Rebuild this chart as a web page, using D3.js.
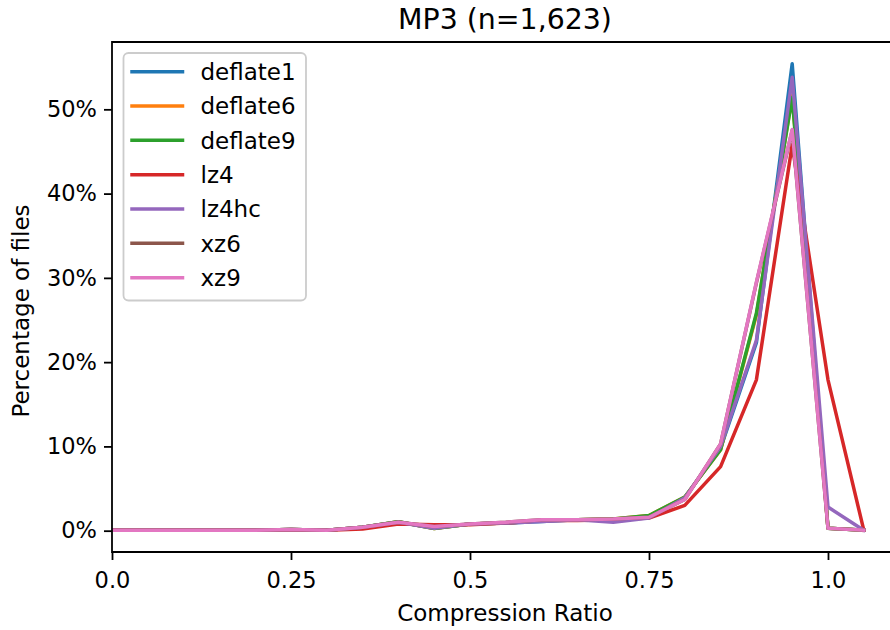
<!DOCTYPE html>
<html>
<head>
<meta charset="utf-8">
<script src="https://cdn.jsdelivr.net/npm/d3@7"></script>
<style>
  html, body { margin: 0; padding: 0; background: #fff; }
  svg { display: block; font-family: "DejaVu Sans", sans-serif; }
</style>
</head>
<body>
<svg id="chart" width="890" height="630"></svg>
<script>
// ---- data (percent of files per compression-ratio bin) ----
const ratios = [0, 0.05, 0.1, 0.15, 0.2, 0.25, 0.3, 0.35, 0.4, 0.45, 0.5, 0.55, 0.6, 0.65, 0.7, 0.75, 0.8, 0.85, 0.9, 0.95, 1.0, 1.05];
const seriesNames = ["deflate1", "deflate6", "deflate9", "lz4", "lz4hc", "xz6", "xz9"];
const deflate1 = [0.05, 0.05, 0.05, 0.05, 0.05, 0.15, 0.05, 0.4, 1.05, 0.3, 0.8, 0.9, 1.1, 1.3, 1.35, 1.6, 3.9, 9.8, 22.3, 55.4, 0.3, 0.05];
const deflate6 = [0.05, 0.05, 0.05, 0.05, 0.05, 0.15, 0.05, 0.4, 1.05, 0.25, 0.8, 0.9, 1.2, 1.3, 1.4, 1.8, 4.0, 9.6, 25.6, 51.6, 0.3, 0.05];
const deflate9 = [0.05, 0.05, 0.05, 0.05, 0.05, 0.15, 0.05, 0.4, 1.05, 0.25, 0.8, 0.9, 1.2, 1.3, 1.4, 1.8, 4.0, 9.6, 25.8, 51.4, 0.3, 0.05];
const lz4      = [0.05, 0.05, 0.05, 0.05, 0.05, 0.1, 0.05, 0.2, 0.8, 0.7, 0.7, 0.9, 1.2, 1.2, 1.3, 1.5, 3.0, 7.6, 17.9, 45.8, 17.9, 0.05];
const lz4hc    = [0.05, 0.05, 0.05, 0.05, 0.05, 0.15, 0.05, 0.4, 1.0, 0.3, 0.8, 0.9, 1.1, 1.3, 1.0, 1.5, 3.9, 10.0, 22.6, 53.8, 2.8, 0.05];
const xz6      = [0.05, 0.05, 0.05, 0.05, 0.05, 0.15, 0.05, 0.4, 1.0, 0.5, 0.8, 1.0, 1.3, 1.3, 1.4, 1.6, 3.7, 10.3, 29.4, 47.5, 0.3, 0.05];
const xz9      = [0.05, 0.05, 0.05, 0.05, 0.05, 0.15, 0.05, 0.4, 1.0, 0.5, 0.8, 1.0, 1.3, 1.3, 1.4, 1.6, 3.7, 10.3, 29.5, 47.6, 0.3, 0.05];
const seriesValues = [deflate1, deflate6, deflate9, lz4, lz4hc, xz6, xz9];
const colors = ["#1f77b4", "#ff7f0e", "#2ca02c", "#d62728", "#9467bd", "#8c564b", "#e377c2"];
const xTicks = [0, 0.25, 0.5, 0.75, 1.0];
const xTickLabels = ["0.0", "0.25", "0.5", "0.75", "1.0"];
const yTicks = [0, 10, 20, 30, 40, 50];
const titleText = "MP3 (n=1,623)";
const xLabel = "Compression Ratio";
const yLabel = "Percentage of files";

// ---- layout ----
const svg = d3.select("#chart");
const pLeft = 112, pTop = 42, pBottom = 552, pRight = 890;
const x = d3.scaleLinear().domain([0, 1.0866]).range([pLeft, pRight]);
const y = d3.scaleLinear().domain([-2.53, 57.99]).range([pBottom, pTop]);

svg.append("defs").append("clipPath").attr("id", "plotclip")
  .append("rect").attr("x", pLeft).attr("y", pTop).attr("width", pRight - pLeft).attr("height", pBottom - pTop);

// lines
const line = d3.line().x((d, i) => x(ratios[i])).y(d => y(d));
const g = svg.append("g").attr("clip-path", "url(#plotclip)");
seriesValues.forEach((vals, k) => {
  g.append("path")
    .datum(vals)
    .attr("d", line)
    .attr("fill", "none")
    .attr("stroke", colors[k])
    .attr("stroke-width", 3.5)
    .attr("stroke-linejoin", "round")
    .attr("stroke-linecap", "square");
});

// axes
const xAxis = d3.axisBottom(x).tickValues(xTicks).tickFormat((d, i) => xTickLabels[i]).tickSize(8).tickPadding(7);
const yAxis = d3.axisLeft(y).tickValues(yTicks).tickFormat(d => d + "%").tickSize(8).tickPadding(7);

const gx = svg.append("g").attr("transform", `translate(0,${pBottom})`).call(xAxis);
const gy = svg.append("g").attr("transform", `translate(${pLeft},0)`).call(yAxis);
[gx, gy].forEach(a => {
  a.select(".domain").remove();
  a.selectAll(".tick line").attr("stroke", "#000").attr("stroke-width", 1.8);
  a.selectAll(".tick text").attr("fill", "#000").style("font-size", "22.5px").style("font-family", "DejaVu Sans");
});
gx.selectAll(".tick text").attr("dy", "0.95em");

// spines
const spineW = 1.8;
svg.append("line").attr("x1", pLeft).attr("x2", pRight).attr("y1", pTop).attr("y2", pTop).attr("stroke", "#000").attr("stroke-width", spineW);
svg.append("line").attr("x1", pLeft).attr("x2", pRight).attr("y1", pBottom).attr("y2", pBottom).attr("stroke", "#000").attr("stroke-width", spineW);
svg.append("line").attr("x1", pLeft).attr("x2", pLeft).attr("y1", pTop - spineW / 2).attr("y2", pBottom + spineW / 2).attr("stroke", "#000").attr("stroke-width", spineW);

// title and labels
svg.append("text").attr("x", 505).attr("y", 29).attr("text-anchor", "middle")
  .style("font-size", "28.4px").attr("fill", "#000").text(titleText);
svg.append("text").attr("x", 505).attr("y", 621).attr("text-anchor", "middle")
  .style("font-size", "23px").attr("fill", "#000").text(xLabel);
svg.append("text").attr("transform", `translate(29,${(pTop + pBottom) / 2 + 14}) rotate(-90)`).attr("text-anchor", "middle")
  .style("font-size", "23px").attr("fill", "#000").text(yLabel);

// legend
const lg = svg.append("g");
lg.append("rect").attr("x", 123.5).attr("y", 53).attr("width", 182.5).attr("height", 247.5)
  .attr("rx", 5).attr("fill", "#fff").attr("fill-opacity", 0.8).attr("stroke", "#cccccc").attr("stroke-width", 1.8);
seriesNames.forEach((name, k) => {
  const yy = 71.7 + k * 34.33;
  lg.append("line").attr("x1", 132).attr("x2", 182.5).attr("y1", yy).attr("y2", yy)
    .attr("stroke", colors[k]).attr("stroke-width", 3.5).attr("stroke-linecap", "square");
  lg.append("text").attr("x", 200.5).attr("y", yy).attr("dy", "0.36em")
    .style("font-size", "23px").attr("fill", "#000").text(name);
});
</script>
</body>
</html>
